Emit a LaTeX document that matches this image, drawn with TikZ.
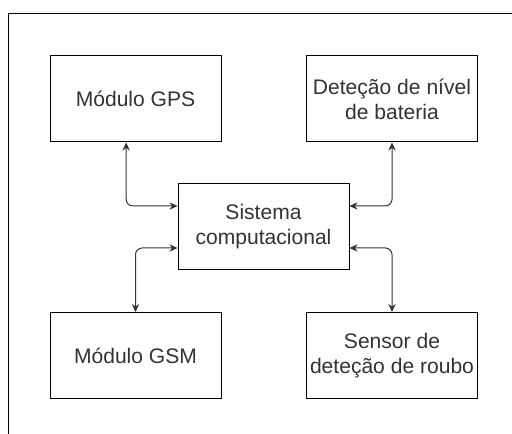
\documentclass[tikz,border=0pt]{standalone}
\usepackage{fontspec}
\setmainfont{Liberation Sans}
\definecolor{mygray}{HTML}{333333}
\usetikzlibrary{positioning, calc, arrows.meta}
\tikzset{
	boxnode/.style={
			rectangle,
			draw=black,
			line width=0.75pt,
			fill=white,
			minimum width=128.25pt,
			minimum height=64.5pt,
			inner sep=0pt,
			align=center,
			text=mygray,
			font=\fontsize{15.8}{18.8}\selectfont
		},
	linkline/.style={
			draw=mygray,
			line width=0.75pt,
			rounded corners=5pt,
			{Stealth[length=6pt,width=5.5pt]}-{Stealth[length=6pt,width=5.5pt]}
		}
}

\begin{document}
\begin{tikzpicture}[x=0.75pt, y=-0.75pt]
\useasboundingbox (0,0) rectangle (512,434);
\draw[black, line width=0.75pt] (8,434) -- (8,14) -- (512,14);

\node[boxnode] (gps) at (135.5,99)  {Módulo GPS};
\node[boxnode] (bat) at (392,99)  {Deteção de nível\\de bateria};
\node[boxnode] (sis) at (263.5,227)  {Sistema\\computacional};
\node[boxnode] (gsm) at (135.5,355.5)  {Módulo GSM};
\node[boxnode] (rou) at (392,355.5)  {Sensor de\\deteção de roubo};

\draw[linkline] ([xshift=-7pt]gps.south) |- ([yshift=15.75pt]sis.west);
\draw[linkline] (bat.south) |- ([yshift=15.75pt]sis.east);
\draw[linkline] ([yshift=-15.75pt]sis.west) -| (gsm.north);
\draw[linkline] ([yshift=-15.75pt]sis.east) -| (rou.north);

\end{tikzpicture}
\end{document}
